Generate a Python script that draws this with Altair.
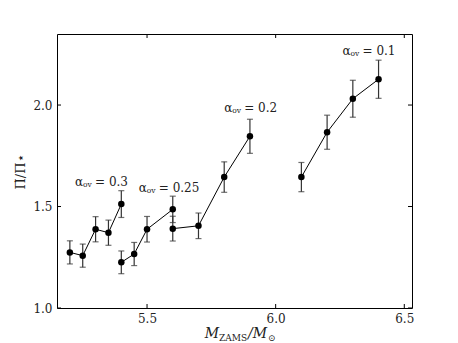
import altair as alt
import pandas as pd

# ---- data ----
group = ["0.3"] * 5 + ["0.25"] * 4 + ["0.2"] * 4 + ["0.1"] * 4
mass = [5.20, 5.25, 5.30, 5.35, 5.40,
        5.40, 5.45, 5.50, 5.60,
        5.60, 5.70, 5.80, 5.90,
        6.10, 6.20, 6.30, 6.40]
ratio = [1.274, 1.258, 1.388, 1.371, 1.512,
         1.225, 1.266, 1.388, 1.486,
         1.391, 1.405, 1.645, 1.846,
         1.645, 1.866, 2.031, 2.127]
err = [0.057, 0.057, 0.062, 0.062, 0.066,
       0.056, 0.057, 0.063, 0.065,
       0.061, 0.063, 0.075, 0.084,
       0.072, 0.084, 0.091, 0.094]

label_value = ["= 0.3", "= 0.25", "= 0.2", "= 0.1"]
label_x = [5.22, 5.468, 5.80, 6.26]
label_y = [1.62, 1.59, 1.985, 2.265]

x_ticks = [5.5, 6.0, 6.5]
y_ticks = [1.0, 1.5, 2.0]

W, H = 355, 274
FONT = "DejaVu Serif"

df = pd.DataFrame({"group": group, "mass": mass, "ratio": ratio, "err": err})
df["lo"] = df["ratio"] - df["err"]
df["hi"] = df["ratio"] + df["err"]
df["idx"] = range(len(df))

labels = pd.DataFrame({"x": label_x, "y": label_y, "val": label_value})
xt = pd.DataFrame({"t": x_ticks})
yt = pd.DataFrame({"t": y_ticks})

xscale = alt.Scale(domain=[5.15, 6.53], nice=False, zero=False)
yscale = alt.Scale(domain=[1.0, 2.35], nice=False, zero=False)

X = alt.X("mass:Q", scale=xscale,
          axis=alt.Axis(values=x_ticks, format=".1f", ticks=False, domain=False, grid=False,
                        labelFont=FONT, labelFontSize=12, labelColor="#222", labelPadding=5,
                        title=None))
Y = alt.Y("ratio:Q", scale=yscale,
          axis=alt.Axis(values=y_ticks, format=".1f", ticks=False, domain=False, grid=False,
                        labelFont=FONT, labelFontSize=12, labelColor="#222", labelPadding=5,
                        title=None))

base = alt.Chart(df)

line = base.mark_line(color="black", strokeWidth=1).encode(
    x=X, y=Y, detail="group:N", order="idx:Q")

bars = base.mark_rule(color="#333", strokeWidth=1.2).encode(
    x=alt.X("mass:Q", scale=xscale), y=alt.Y("lo:Q", scale=yscale), y2="hi:Q")
cap_lo = base.mark_tick(orient="horizontal", color="#333", size=6, thickness=1.2).encode(
    x=alt.X("mass:Q", scale=xscale), y=alt.Y("lo:Q", scale=yscale))
cap_hi = base.mark_tick(orient="horizontal", color="#333", size=6, thickness=1.2).encode(
    x=alt.X("mass:Q", scale=xscale), y=alt.Y("hi:Q", scale=yscale))

pts = base.mark_circle(color="black", opacity=1, size=42).encode(
    x=alt.X("mass:Q", scale=xscale), y=alt.Y("ratio:Q", scale=yscale))

lab = alt.Chart(labels)
lab_a = lab.mark_text(align="left", baseline="middle", font=FONT, fontSize=12,
                      color="#222").encode(
    x=alt.X("x:Q", scale=xscale), y=alt.Y("y:Q", scale=yscale), text=alt.value("α"))
lab_ov = lab.mark_text(align="left", baseline="middle", font=FONT, fontSize=7.5,
                       color="#222", dx=8, dy=3).encode(
    x=alt.X("x:Q", scale=xscale), y=alt.Y("y:Q", scale=yscale), text=alt.value("ov"))
lab_v = lab.mark_text(align="left", baseline="middle", font=FONT, fontSize=12,
                      color="#222", dx=20).encode(
    x=alt.X("x:Q", scale=xscale), y=alt.Y("y:Q", scale=yscale), text="val:N")

# inward ticks on all four sides
tick_b = alt.Chart(xt).mark_rule(color="black", strokeWidth=1).encode(
    x=alt.X("t:Q", scale=xscale), y=alt.value(H), y2=alt.value(H - 4))
tick_t = alt.Chart(xt).mark_rule(color="black", strokeWidth=1).encode(
    x=alt.X("t:Q", scale=xscale), y=alt.value(0), y2=alt.value(4))
tick_l = alt.Chart(yt).mark_rule(color="black", strokeWidth=1).encode(
    y=alt.Y("t:Q", scale=yscale), x=alt.value(0), x2=alt.value(4))
tick_r = alt.Chart(yt).mark_rule(color="black", strokeWidth=1).encode(
    y=alt.Y("t:Q", scale=yscale), x=alt.value(W), x2=alt.value(W - 4))

# axis titles
one = pd.DataFrame({"a": [0]})
t = alt.Chart(one)
xt_M = t.mark_text(align="right", baseline="alphabetic", font=FONT, fontSize=14,
                   fontStyle="italic", color="#222").encode(
    x=alt.value(162), y=alt.value(304), text=alt.value("M"))
xt_Z = t.mark_text(align="left", baseline="alphabetic", font=FONT, fontSize=9,
                   color="#222").encode(
    x=alt.value(162), y=alt.value(307), text=alt.value("ZAMS"))
xt_S = t.mark_text(align="left", baseline="alphabetic", font=FONT, fontSize=14,
                   fontStyle="italic", color="#222").encode(
    x=alt.value(191), y=alt.value(304), text=alt.value("/M"))
xt_O = t.mark_text(align="left", baseline="alphabetic", font=FONT, fontSize=9,
                   color="#222").encode(
    x=alt.value(211), y=alt.value(307), text=alt.value("⊙"))
yt_T = t.mark_text(align="center", baseline="middle", font=FONT, fontSize=13,
                   angle=270, color="#222").encode(
    x=alt.value(-36), y=alt.value(138), text=alt.value("Π̇/Π⋆"))

chart = alt.layer(
    line, bars, cap_lo, cap_hi, pts, lab_a, lab_ov, lab_v,
    tick_b, tick_t, tick_l, tick_r, xt_M, xt_Z, xt_S, xt_O, yt_T
).properties(
    width=W, height=H,
    autosize=alt.AutoSizeParams(type="none"),
    padding={"left": 49, "top": 26, "right": 30, "bottom": 45},
).configure_view(stroke="black", strokeWidth=1)

chart.save("out.html", embed_options={"renderer": "svg", "actions": False})
